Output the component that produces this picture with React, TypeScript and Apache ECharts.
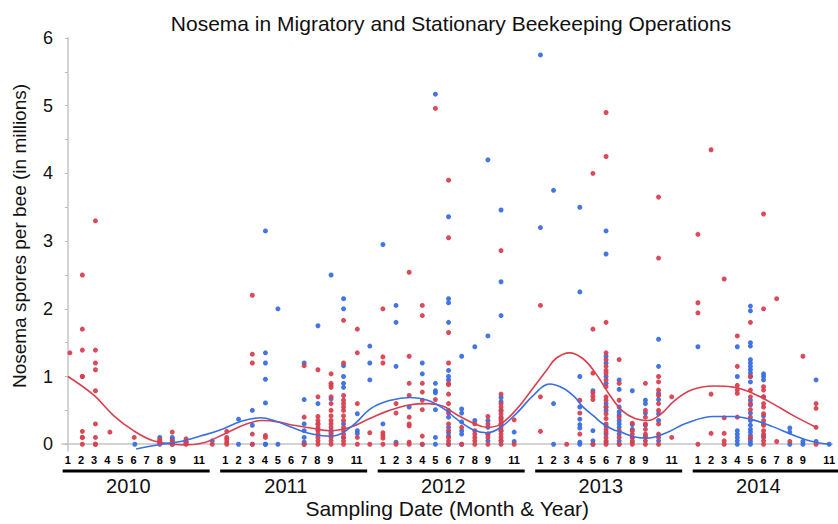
import React, { useEffect, useRef } from "react";
import * as echarts from "echarts";

const FONT = "'Liberation Sans', Arial, sans-serif";
const RED = "#d9404f";
const BLUE = "#3a6fe2";

const chartTitle = "Nosema in Migratory and Stationary Beekeeping Operations";
const xTitle = "Sampling Date (Month & Year)";
const yTitle = "Nosema spores per bee (in millions)";

const years = ["2010", "2011", "2012", "2013", "2014"];
const monthLabels = [1, 2, 3, 4, 5, 6, 7, 8, 9, 11];
const yTickLabels = [0, 1, 2, 3, 4, 5, 6];
const yMinorTicks = [0, 0.5, 1, 1.5, 2, 2.5, 3, 3.5, 4, 4.5, 5, 5.5, 6];

// x = months since Jan 2010 (0 = Jan 2010), values = spores (millions)
type Col = [number, number[]];

const red2010: Col[] = [
  [0.15, [1.35]],
  [1.1, [2.5, 1.7, 1.39, 1.0, 1.0, 0.19, 0.1, 0.1, 0.0]],
  [2.1, [3.3, 1.39, 1.2, 1.1, 0.79, 0.3, 0.1, 0.0, 0.0]],
  [3.2, [0.18]],
  [5.05, [0.1]],
  [7.0, [0.07, 0.04, 0.02, 0.0]],
  [7.95, [0.18, 0.05, 0.02, 0.0]],
  [9.0, [0.08, 0.04, 0.02, 0.0]],
  [11.0, [0.0]],
];
const red2011: Col[] = [
  [12.1, [0.19, 0.1, 0.07, 0.03, 0.0]],
  [14.05, [2.2, 1.33, 1.2, 0.15, 0.0]],
  [15.05, [0.13, 0.1]],
  [18.0, [1.16, 0.4, 0.0]],
  [19.05, [1.1, 0.7, 0.41, 0.35, 0.3, 0.25, 0.2, 0.15, 0.1, 0.05, 0.0]],
  [20.05, [1.04, 0.9, 0.87, 0.84, 0.7, 0.6, 0.5, 0.42, 0.35, 0.3, 0.25, 0.15, 0.1, 0.05, 0.0]],
  [21.0, [1.83, 1.2, 0.72, 0.65, 0.6, 0.55, 0.5, 0.42, 0.35, 0.25, 0.2, 0.15, 0.1, 0.05, 0.0]],
  [22.05, [1.7, 1.35, 0.6, 0.1, 0.0]],
  [23.0, [0.17, 0.0]],
];
const red2012: Col[] = [
  [24.0, [2.0, 1.29, 1.2, 0.17, 0.13, 0.09, 0.0]],
  [25.0, [0.6, 0.46, 0.0]],
  [26.0, [2.54, 1.3, 0.9, 0.72, 0.4, 0.3, 0.27, 0.03, 0.0]],
  [27.0, [2.05, 1.9, 0.9, 0.77, 0.65, 0.51, 0.12, 0.0]],
  [28.0, [4.96, 0.66]],
  [29.0, [3.9, 3.05, 1.65, 1.2, 0.9, 0.88, 0.74, 0.6, 0.46, 0.3, 0.2, 0.1, 0.05, 0.0]],
  [30.0, [0.25, 0.0]],
  [31.0, [0.3, 0.2, 0.15, 0.1, 0.05, 0.0]],
  [32.0, [0.41, 0.3, 0.15, 0.1, 0.0]],
  [33.0, [2.86, 0.74, 0.6, 0.55, 0.5, 0.45, 0.4, 0.35, 0.3, 0.25, 0.2, 0.15, 0.1, 0.05, 0.0]],
  [34.0, [0.36, 0.0]],
];
const red2013: Col[] = [
  [36.0, [2.05, 0.7, 0.19]],
  [38.0, [0.0]],
  [39.0, [0.65, 0.46, 0.15]],
  [40.0, [4.0, 1.7, 1.05, 0.76, 0.71, 0.66, 0.0]],
  [41.0, [4.9, 4.25, 1.8, 1.35, 1.25, 1.15, 1.09, 1.05, 0.95, 0.85, 0.7, 0.65, 0.55, 0.45, 0.38, 0.3, 0.22, 0.18, 0.1, 0.05, 0.0]],
  [42.0, [1.25, 0.9, 0.65, 0.4, 0.2, 0.1, 0.0]],
  [43.0, [0.31, 0.2, 0.15, 0.1, 0.05, 0.0]],
  [44.0, [0.9, 0.5, 0.4, 0.3, 0.22, 0.15, 0.1, 0.05, 0.0]],
  [45.0, [3.65, 2.75, 1.0, 0.92, 0.8, 0.72, 0.6, 0.5, 0.3, 0.15, 0.1, 0.0]],
  [46.0, [0.7, 0.1]],
];
const red2014: Col[] = [
  [48.0, [3.1, 2.09, 1.94, 0.0]],
  [49.0, [4.35, 0.74, 0.16]],
  [50.0, [2.44, 0.39, 0.16, 0.05, 0.0]],
  [51.0, [1.6, 1.15, 0.87, 0.8, 0.75, 0.4]],
  [52.0, [1.8, 1.0, 0.8, 0.7, 0.6, 0.51, 0.4, 0.1]],
  [53.0, [3.4, 2.0, 0.85, 0.8, 0.7, 0.6, 0.55, 0.45, 0.35, 0.28, 0.2, 0.15, 0.1, 0.05, 0.0]],
  [54.0, [2.15, 0.04]],
  [55.0, [0.04]],
  [56.0, [1.3]],
  [57.0, [0.6, 0.53, 0.25, 0.0]],
];

const blue2010: Col[] = [
  [5.1, [0.0]],
  [7.0, [0.1, 0.05]],
  [7.95, [0.1, 0.07, 0.05, 0.02, 0.0]],
  [9.0, [0.03]],
  [11.0, [0.05]],
];
const blue2011: Col[] = [
  [13.0, [0.37, 0.0]],
  [14.05, [0.5, 0.28, 0.0]],
  [15.05, [3.15, 1.35, 1.2, 0.96, 0.61, 0.0, 0.0]],
  [16.0, [2.0, 0.0]],
  [18.0, [1.2, 0.66, 0.3, 0.2, 0.1, 0.03, 0.0]],
  [19.05, [1.75, 0.6, 0.3, 0.22]],
  [20.05, [2.5, 0.67, 0.2, 0.17]],
  [21.0, [2.15, 2.0, 1.16, 1.0, 0.9, 0.84, 0.3, 0.1]],
  [22.05, [0.45, 0.2, 0.16]],
  [23.0, [1.45, 1.2, 0.95]],
];
const blue2012: Col[] = [
  [24.0, [2.95, 0.3]],
  [25.0, [2.05, 1.8, 1.15, 0.03]],
  [26.0, [0.55]],
  [27.0, [1.2, 1.04, 0.0]],
  [28.0, [5.17, 0.9, 0.79, 0.76, 0.51, 0.1, 0.0]],
  [29.0, [3.36, 2.15, 2.09, 1.8, 1.09, 1.0, 0.95, 0.5, 0.4, 0.25, 0.17, 0.12, 0.0]],
  [30.0, [1.3, 0.52, 0.46, 0.33, 0.2, 0.15, 0.0]],
  [31.0, [1.44, 0.35]],
  [32.0, [4.2, 1.6, 0.35, 0.25, 0.15, 0.05]],
  [33.0, [3.46, 2.4, 1.9, 0.69, 0.63, 0.5, 0.38, 0.3, 0.2, 0.05]],
  [34.0, [0.18, 0.04]],
];
const blue2013: Col[] = [
  [36.0, [5.75, 3.2]],
  [37.0, [3.75, 0.6, 0.0]],
  [39.0, [3.5, 2.25, 1.0, 0.55, 0.37, 0.29, 0.24, 0.03, 0.0]],
  [40.0, [0.79, 0.2, 0.05, 0.0]],
  [41.0, [3.15, 2.81, 1.3, 1.2, 1.0, 0.9, 0.6, 0.55, 0.5, 0.27, 0.15, 0.03]],
  [42.0, [0.95, 0.81, 0.55, 0.48, 0.43, 0.35, 0.3, 0.25, 0.15, 0.05, 0.0]],
  [43.0, [0.79, 0.29, 0.22, 0.1, 0.03]],
  [44.0, [0.65, 0.6, 0.46, 0.28, 0.12]],
  [45.0, [1.55, 1.15, 0.75, 0.66, 0.45, 0.35, 0.05]],
];
const blue2014: Col[] = [
  [48.0, [1.44]],
  [51.0, [1.44, 1.0, 0.2, 0.15, 0.1, 0.05, 0.0]],
  [52.0, [2.04, 1.97, 1.5, 1.45, 1.25, 1.2, 1.15, 1.1, 1.05, 1.0, 0.92, 0.65, 0.58, 0.46, 0.35, 0.28, 0.22, 0.18, 0.13, 0.08, 0.04, 0.0]],
  [53.0, [1.04, 1.0, 0.95, 0.7, 0.42, 0.3, 0.12]],
  [55.0, [0.24, 0.18, 0.0]],
  [56.0, [0.04, 0.0]],
  [57.0, [0.95, 0.04]],
  [58.0, [0.0]],
];

// smoothed trend lines
const redTrend: [number, number][] = [
  [0, 1.0], [2, 0.72], [3.5, 0.42], [5, 0.2], [6.5, 0.05], [8, 0.0], [9, -0.01], [10.5, 0.03],
  [12, 0.16], [13.5, 0.29], [14.8, 0.35], [16, 0.33], [17.2, 0.28], [18.5, 0.24], [20, 0.2],
  [21.5, 0.25], [23, 0.38], [24.5, 0.5], [26, 0.58], [27.5, 0.6], [28.6, 0.56], [29.6, 0.44],
  [30.9, 0.31], [31.9, 0.25], [32.9, 0.29], [34.2, 0.52], [35.4, 0.82], [36.5, 1.1], [37.2, 1.27],
  [38.2, 1.35], [39.2, 1.27], [40.2, 1.05], [41.2, 0.75], [42.2, 0.5], [43.2, 0.38], [44.2, 0.35],
  [45.2, 0.45], [46.2, 0.64], [47.5, 0.8], [49.2, 0.86], [50.8, 0.84], [52.2, 0.75], [53.7, 0.6],
  [55.2, 0.43], [57.0, 0.25],
];
const blueTrend: [number, number][] = [
  [5.2, -0.07], [7.1, 0.0], [8.6, 0.04], [10.1, 0.12], [11.6, 0.21], [13.2, 0.34], [14.7, 0.39],
  [15.7, 0.35], [17.2, 0.24], [18.2, 0.17], [19.2, 0.13], [20.1, 0.12], [21.6, 0.26], [23.1, 0.53],
  [24.6, 0.65], [26.1, 0.69], [27.4, 0.65], [28.6, 0.53], [29.7, 0.36], [30.9, 0.21], [31.9, 0.17],
  [32.9, 0.24], [34.2, 0.46], [35.5, 0.73], [36.7, 0.89], [37.7, 0.83], [38.6, 0.7], [39.2, 0.56],
  [40.1, 0.41], [40.7, 0.31], [41.6, 0.21], [42.0, 0.19], [43.1, 0.11], [44.1, 0.09], [45.6, 0.17],
  [47.1, 0.31], [49.2, 0.41], [50.7, 0.41], [52.2, 0.36], [53.7, 0.26], [55.2, 0.14], [56.7, 0.04],
  [58.0, 0.0],
];

const flatten = (groups: Col[][]) =>
  groups.flat().flatMap(([x, vs]) => vs.map((v) => [x, v]));

const redPoints = flatten([red2010, red2011, red2012, red2013, red2014]);
const bluePoints = flatten([blue2010, blue2011, blue2012, blue2013, blue2014]);
const monthTickValues = years.flatMap((_, yi) => monthLabels.map((m) => yi * 12 + m - 1));

export default function App() {
  const ref = useRef<HTMLDivElement>(null);
  useEffect(() => {
    if (!ref.current) return;
    const chart = echarts.init(ref.current, undefined, { renderer: "svg" });
    const option: any = {
      animation: false,
      backgroundColor: "#ffffff",
      title: {
        text: chartTitle,
        left: 446,
        top: 8,
        textAlign: "center",
        textStyle: { fontFamily: FONT, fontSize: 21, fontWeight: "normal", color: "#111" },
      },
      grid: { left: 62, right: 0, top: 38, bottom: 69, containLabel: false },
      xAxis: {
        type: "value",
        min: -0.45,
        max: 58.25,
        axisLine: { show: true, lineStyle: { color: "#c4c4c4", width: 1.5 } },
        axisTick: { show: false },
        splitLine: { show: false },
        axisLabel: {
          customValues: monthTickValues,
          formatter: (v: number) => String((Math.round(v) % 12) + 1),
          fontFamily: FONT,
          fontSize: 11,
          fontWeight: "bold",
          color: "#000",
          margin: 3,
        },
        name: xTitle,
        nameLocation: "middle",
        nameGap: 47,
        nameTextStyle: { fontFamily: FONT, fontSize: 21, color: "#111" },
      },
      yAxis: {
        type: "value",
        min: -0.1,
        max: 6,
        axisLine: { show: true, lineStyle: { color: "#c4c4c4", width: 1.5 } },
        axisTick: { show: true, customValues: yMinorTicks, length: 3, lineStyle: { color: "#bdbdbd" } },
        splitLine: { show: false },
        axisLabel: {
          customValues: yTickLabels,
          fontFamily: FONT,
          fontSize: 18,
          color: "#111",
          margin: 9,
        },
      },
      series: [
        {
          type: "scatter",
          name: "Stationary",
          data: bluePoints,
          symbolSize: 5,
          itemStyle: { color: BLUE, opacity: 0.95 },
          z: 2,
        },
        {
          type: "scatter",
          name: "Migratory",
          data: redPoints,
          symbolSize: 5,
          itemStyle: { color: RED, opacity: 0.95 },
          z: 2,
        },
        {
          type: "line",
          name: "Migratory trend",
          data: redTrend,
          smooth: 0.4,
          symbol: "none",
          clip: false,
          lineStyle: { color: RED, width: 1.6 },
          z: 4,
        },
        {
          type: "line",
          name: "Stationary trend",
          data: blueTrend,
          smooth: 0.4,
          symbol: "none",
          clip: false,
          lineStyle: { color: BLUE, width: 1.6 },
          z: 4,
        },
      ],
    };
    chart.setOption(option);

    const graphics: any[] = [];
    years.forEach((yr, i) => {
      const p1 = chart.convertToPixel({ gridIndex: 0 }, [i * 12 - 0.4, 0]) as number[];
      const p2 = chart.convertToPixel({ gridIndex: 0 }, [i * 12 + 10.8, 0]) as number[];
      const pc = chart.convertToPixel({ gridIndex: 0 }, [i * 12 + 4.6, 0]) as number[];
      graphics.push({
        type: "line",
        shape: { x1: p1[0], y1: 471, x2: p2[0], y2: 471 },
        style: { stroke: "#000", lineWidth: 3 },
      });
      graphics.push({
        type: "text",
        x: pc[0],
        y: 486,
        style: {
          text: yr,
          fontFamily: FONT,
          fontSize: 20,
          fill: "#111",
          align: "center",
          verticalAlign: "middle",
          textAlign: "center",
          textVerticalAlign: "middle",
        },
      });
    });
    graphics.push({
      type: "text",
      x: 19,
      y: 236,
      rotation: Math.PI / 2,
      style: {
        text: yTitle,
        fontFamily: FONT,
        fontSize: 19,
        fill: "#111",
        align: "center",
        verticalAlign: "middle",
        textAlign: "center",
        textVerticalAlign: "middle",
      },
    });
    chart.setOption({ graphic: graphics });

    return () => chart.dispose();
  }, []);

  return <div ref={ref} style={{ width: 838, height: 524, position: "absolute", left: 0, top: 0 }} />;
}
